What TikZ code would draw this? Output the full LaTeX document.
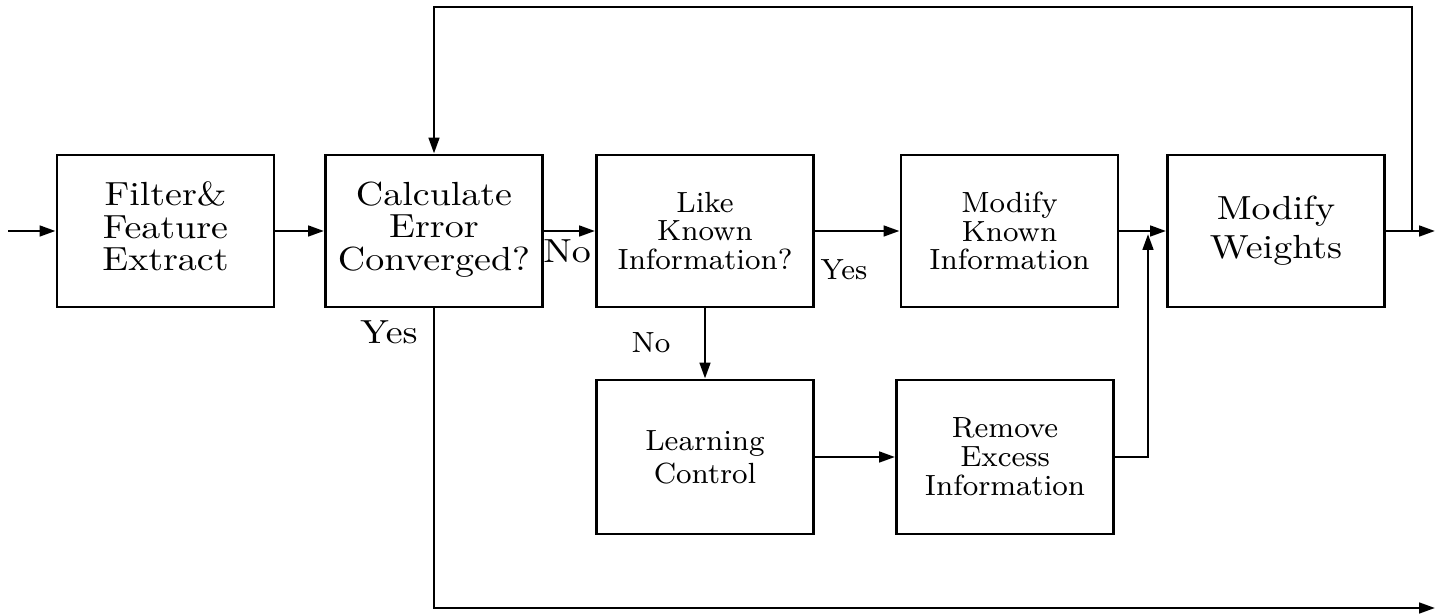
\documentclass[tikz,border=0pt]{standalone}
\usetikzlibrary{arrows.meta}
\newcommand{\squash}[1]{\scalebox{1}[0.88]{\begin{tabular}{@{}c@{}}#1\end{tabular}}}
\tikzset{
  block/.style={draw, line width=0.8pt, minimum width=2.17cm, minimum height=1.52cm, align=center, inner sep=0pt},
  bigtxt/.style={font=\fontsize{10.8}{10.4}\selectfont},
  smalltxt/.style={font=\fontsize{8.3}{8.2}\selectfont},
}
\begin{document}
\begin{tikzpicture}[x=0.01cm,y=-0.01cm,line width=0.75pt]
      \useasboundingbox (0,0) rectangle (1446,616);
      \draw
        (165.5,231) node[block,bigtxt] (filter){\squash{Filter\&\\Feature\\Extract}}
        (434,231) node[block,bigtxt] (calc){\squash{Calculate\\Error\\Converged?}}
        (705,231) node[block,smalltxt] (like){Like\\Known\\Information?}
        (1009.5,231) node[block,smalltxt] (modknown){Modify\\Known\\Information}
        (1276,231) node[block,font=\fontsize{10.8}{12.9}\selectfont] (weights){\squash{Modify\\Weights}}
        (705,457) node[block,font=\fontsize{8.3}{9.4}\selectfont,minimum height=1.54cm] (learn){Learning\\Control}
        (1005,457) node[block,smalltxt,minimum height=1.54cm] (remove){Remove\\Excess\\Information};
      \draw
        (567,256) node[bigtxt] (no1){\squash{No}}
        (389,337) node[bigtxt] (yes1){\squash{Yes}}
        (844,270) node[smalltxt] (yes2){Yes}
        (651,343) node[smalltxt] (no2){No};
      \coordinate (in) at (8,231);
      \coordinate (join) at (1148,234);
      \coordinate (tap) at (1412,231);
      \coordinate (fbtop) at (1412,7);
      \coordinate (out) at (1435,231);
      \coordinate (exit) at (1435,608);
      \begin{scope}[-{Triangle[length=4.5pt,width=3pt]}]
        \draw (in) to (filter);
        \draw (filter) to (calc);
        \draw (calc) to (like);
        \draw (like) to (modknown);
        \draw (modknown) to (weights);
        \draw (like) to (learn);
        \draw (learn) to (remove);
        \draw (remove.east) -| (join);
        \draw (weights) to (out);
        \draw (tap) to (fbtop) -| (calc.north);
        \draw (calc.south) |- (exit);
      \end{scope}
    \end{tikzpicture}
\end{document}
